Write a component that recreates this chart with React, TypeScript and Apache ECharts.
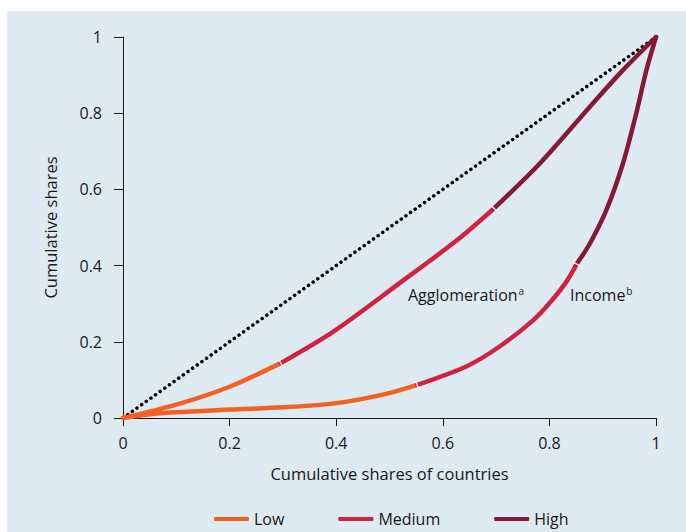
import React, { useEffect, useRef } from "react";
import * as echarts from "echarts";

// Agglomeration curve, split by group
const aggloLow: number[][] = [[0, 0], [0.1, 0.035], [0.2, 0.082], [0.296, 0.144]];
const aggloMedium: number[][] = [[0.296, 0.144], [0.394, 0.226], [0.519, 0.354], [0.627, 0.467], [0.696, 0.55]];
const aggloHigh: number[][] = [[0.696, 0.55], [0.782, 0.668], [0.876, 0.817], [0.938, 0.913], [1, 1]];

// Income curve, split by group
const incomeLow: number[][] = [[0, 0], [0.05, 0.01], [0.1, 0.015], [0.2, 0.022], [0.3, 0.028], [0.4, 0.039], [0.49, 0.062], [0.552, 0.087]];
const incomeMedium: number[][] = [[0.552, 0.087], [0.645, 0.136], [0.708, 0.189], [0.77, 0.257], [0.8, 0.301], [0.832, 0.358], [0.851, 0.404]];
const incomeHigh: number[][] = [[0.851, 0.404], [0.876, 0.458], [0.907, 0.546], [0.938, 0.668], [0.963, 0.8], [0.982, 0.913], [1, 1]];

const equality: number[][] = [[0, 0], [1, 1]];
const groups = ["Low", "Medium", "High"];
const colors = ["#f26122", "#d1233f", "#861935"];

const FONT = "Open Sans";
const TXT = "#1a1718";
const FS = 16;

export default function App() {
  const ref = useRef<HTMLDivElement>(null);
  useEffect(() => {
    if (!ref.current) return;
    const chart = echarts.init(ref.current, null, { renderer: "svg" });
    const gridW = 533;
    const gridH = 381;
    const boundaryAngle = (a: number[], b: number[]) => {
      const dx = (b[0] - a[0]) * gridW;
      const dy = (b[1] - a[1]) * gridH;
      return (Math.atan2(dy, dx) * 180) / Math.PI;
    };
    const boundaries = [
      { pt: aggloLow[aggloLow.length - 1], a: aggloLow[aggloLow.length - 2], b: aggloMedium[1] },
      { pt: aggloMedium[aggloMedium.length - 1], a: aggloMedium[aggloMedium.length - 2], b: aggloHigh[1] },
      { pt: incomeLow[incomeLow.length - 1], a: incomeLow[incomeLow.length - 2], b: incomeMedium[1] },
      { pt: incomeMedium[incomeMedium.length - 1], a: incomeMedium[incomeMedium.length - 2], b: incomeHigh[1] },
    ];
    const lineSeries = (name: string, data: number[][], color: string) => ({
      type: "line",
      name,
      data,
      smooth: 0.3,
      showSymbol: false,
      symbol: "none",
      lineStyle: { color, width: 4.5, cap: "round" },
      itemStyle: { color },
      z: 3,
    });
    const richSup = { sup: { fontSize: 10, fontFamily: FONT, fill: TXT, padding: [0, 0, 9, 1] } };
    chart.setOption({
      animation: false,
      graphic: [
        {
          type: "rect",
          shape: { x: 7, y: 11, width: 700, height: 540 },
          style: { fill: "#ddeaf2" },
          z: -10,
          silent: true,
        },
        {
          type: "text",
          x: 408,
          y: 295,
          style: {
            text: "Agglomeration{sup|a}",
            font: `${FS}px '${FONT}'`,
            fill: TXT,
            verticalAlign: "middle",
            rich: richSup,
          } as any,
          z: 10,
        },
        {
          type: "text",
          x: 570,
          y: 295,
          style: {
            text: "Income{sup|b}",
            font: `${FS}px '${FONT}'`,
            fill: TXT,
            verticalAlign: "middle",
            rich: richSup,
          } as any,
          z: 10,
        },
      ],
      grid: { left: 123, right: 30, top: 37, bottom: 114 },
      legend: {
        left: 209,
        top: 506,
        itemWidth: 35,
        itemHeight: 4,
        itemGap: 54,
        icon: "roundRect",
        data: groups,
        textStyle: { fontFamily: FONT, fontSize: FS, color: TXT },
      },
      xAxis: {
        type: "value",
        min: 0,
        max: 1,
        interval: 0.2,
        name: "Cumulative shares of countries",
        nameLocation: "middle",
        nameGap: 47,
        nameTextStyle: { fontFamily: FONT, fontSize: 16.5, color: TXT },
        axisLine: { show: true, lineStyle: { color: TXT, width: 1 } },
        axisTick: { show: true, length: 8, lineStyle: { color: TXT } },
        axisLabel: { fontFamily: FONT, fontSize: FS, color: TXT, margin: 17 },
        splitLine: { show: false },
      },
      yAxis: {
        type: "value",
        min: 0,
        max: 1,
        interval: 0.2,
        name: "Cumulative shares",
        nameLocation: "middle",
        nameGap: 64,
        nameTextStyle: { fontFamily: FONT, fontSize: 16.5, color: TXT },
        axisLine: { show: true, lineStyle: { color: TXT, width: 1 } },
        axisTick: { show: true, length: 9, lineStyle: { color: TXT } },
        axisLabel: { fontFamily: FONT, fontSize: FS, color: TXT, margin: 21 },
        splitLine: { show: false },
      },
      series: [
        {
          type: "line",
          data: equality,
          showSymbol: false,
          symbol: "none",
          lineStyle: { color: "#000", width: 3.5, type: [0.1, 5.6], cap: "round" },
          z: 2,
          silent: true,
        },
        lineSeries(groups[0], aggloLow, colors[0]),
        lineSeries(groups[1], aggloMedium, colors[1]),
        lineSeries(groups[2], aggloHigh, colors[2]),
        lineSeries(groups[0], incomeLow, colors[0]),
        lineSeries(groups[1], incomeMedium, colors[1]),
        lineSeries(groups[2], incomeHigh, colors[2]),
        {
          type: "scatter",
          data: boundaries.map((bd) => ({
            value: bd.pt,
            symbolRotate: boundaryAngle(bd.a, bd.b),
          })),
          symbol: "rect",
          symbolSize: [1.6, 7],
          itemStyle: { color: "#ffffff" },
          z: 5,
          silent: true,
        },
      ],
    });
    return () => chart.dispose();
  }, []);
  return (
    <div
      ref={ref}
      style={{ position: "absolute", left: 0, top: 0, width: 686, height: 532, background: "#ffffff" }}
    />
  );
}
